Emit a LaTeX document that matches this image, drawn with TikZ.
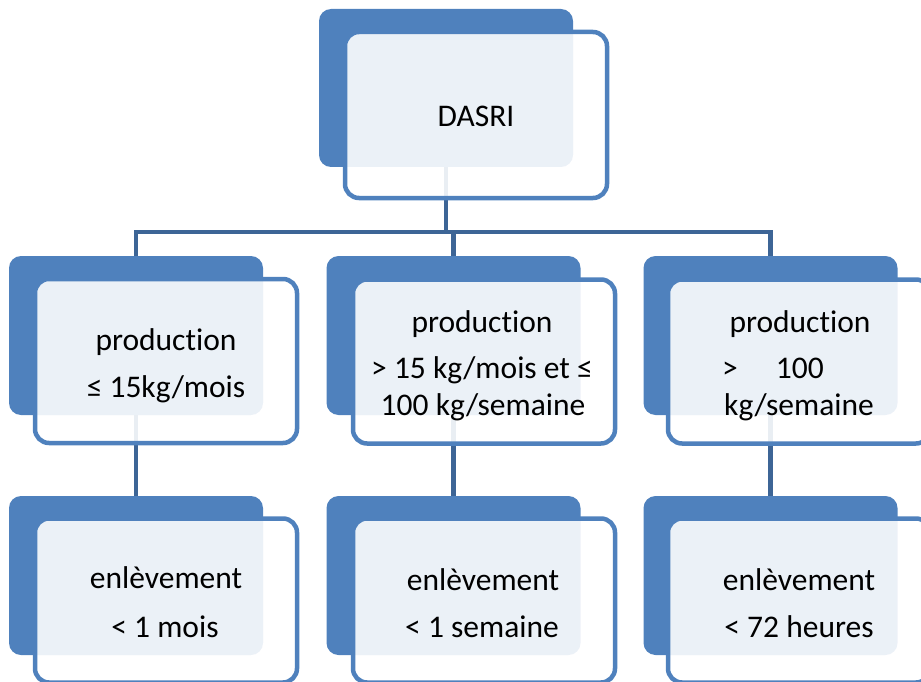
\documentclass[tikz,border=0pt]{standalone}
\usepackage{fontspec}
\setmainfont{Carlito}[Ligatures=NoCommon]
\definecolor{accent}{HTML}{4F81BD}
\definecolor{linkc}{HTML}{3D6596}
\newcommand{\prodword}{product\kern0pt ion}
\begin{document}
\begin{tikzpicture}[x=1pt,y=-1pt,
  backbox/.style={rounded corners=12pt, fill=accent, draw=none, minimum width=254pt, minimum height=159pt, inner sep=0pt, outer sep=0pt},
  frontbox/.style={rounded corners=14pt, fill=white, fill opacity=0.89, draw=accent, line width=4.5pt, minimum width=262pt, minimum height=164pt, inner sep=0pt, outer sep=0pt},
  conn/.style={draw=linkc, line width=4.5pt},
  lbl/.style={anchor=base, inner sep=0pt, font=\fontsize{31.5}{38}\selectfont, text=black}]
\useasboundingbox (0,0) rectangle (921,682);
% back boxes
\node[backbox, minimum height=158pt] (b0) at (446,88) {};
\node[backbox] (b1) at (136,335.5) {};
\node[backbox] (b2) at (453.5,335.5) {};
\node[backbox] (b3) at (770.5,335.5) {};
\node[backbox] (c1) at (136,575.5) {};
\node[backbox] (c2) at (453.5,575.5) {};
\node[backbox] (c3) at (770.5,575.5) {};
% connectors
\coordinate (h) at (0,232);
\draw[conn] (b0.south) -- (b0.south |- h);
\draw[conn, line join=miter] (b1.north) -- (b1.north |- h) -- (b3.north |- h) -- (b3.north);
\draw[conn] (b2.north) -- (b2.north |- h);
\draw[conn] (b1.south) -- (c1.north);
\draw[conn] (b2.south) -- (c2.north);
\draw[conn] (b3.south) -- (c3.north);
% front boxes
\node[frontbox, minimum height=166pt] (f0) at (476,115) {};
\node[frontbox] (f1) at (166,361) {};
\node[frontbox] (f2) at (484,361.5) {};
\node[frontbox] (f3) at (799,361.5) {};
\node[frontbox] (g1) at (166,600.5) {};
\node[frontbox] (g2) at (484,600.5) {};
\node[frontbox] (g3) at (799,600.5) {};
% labels
\node[lbl] (t0) at (476,127) {DASRI};
\node[lbl] (t1a) at (166,350) {\prodword};
\node[lbl] (t1b) at (166,397) {≤ 15kg/mois};
\node[lbl] (t2a) at (482,332) {\prodword};
\node[lbl] (t2b) at (482,378) {> 15 kg/mois et ≤};
\node[lbl] (t2c) at (483,415) {100 kg/semaine};
\node[lbl] (t3a) at (800,332) {\prodword};
\node[lbl, anchor=base west] (t3b) at (722,378) {>\hspace{38pt}100};
\node[lbl] (t3c) at (799,415) {kg/semaine};
\node[lbl] (u1a) at (166,588) {enlèvement};
\node[lbl] (u1b) at (165,637) {< 1 mois};
\node[lbl] (u2a) at (483,590) {enlèvement};
\node[lbl] (u2b) at (482,637) {< 1 semaine};
\node[lbl] (u3a) at (799,590) {enlèvement};
\node[lbl] (u3b) at (799,637) {< 72 heures};
\end{tikzpicture}
\end{document}
